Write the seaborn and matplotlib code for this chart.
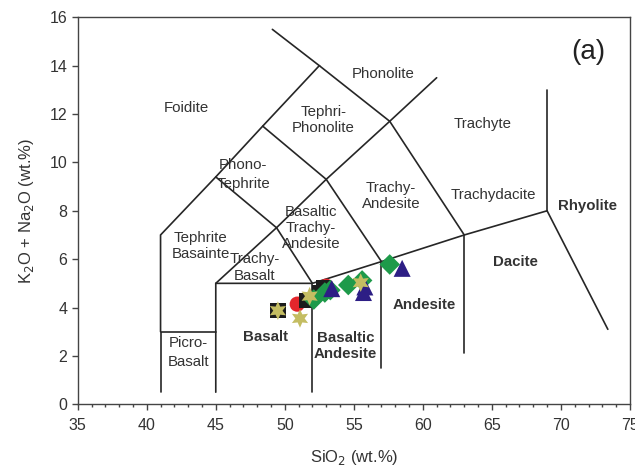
import matplotlib
matplotlib.use("Agg")
import matplotlib.pyplot as plt
import seaborn as sns
import pandas as pd
from matplotlib.ticker import MultipleLocator

sns.set_theme(style="ticks")
plt.rcParams['font.family'] = ['Liberation Sans', 'DejaVu Sans']

# ---- data (SiO2, K2O+Na2O) ----
circle_x = [50.9, 53.0]
circle_y = [4.14, 4.88]
square_x = [49.5, 51.6, 52.5, 52.8]
square_y = [3.87, 4.28, 4.62, 4.82]
diamond_x = [52.1, 52.9, 53.3, 54.6, 55.6, 57.6]
diamond_y = [4.33, 4.62, 4.72, 4.93, 5.12, 5.78]
triangle_x = [53.4, 55.8, 55.7, 58.5]
triangle_y = [4.78, 4.85, 4.62, 5.62]
star_x = [49.5, 51.1, 51.8, 55.5]
star_y = [3.87, 3.55, 4.47, 5.03]

# TAS classification boundaries
boundaries = [
    [(41, 0.5), (41, 3), (45, 3)],
    [(41, 3), (41, 7), (45, 9.4), (48.4, 11.5), (52.5, 14), (49.1, 15.5)],
    [(45, 0.5), (45, 5), (49.4, 7.3), (53, 9.3), (57.6, 11.7), (61, 13.5)],
    [(45, 5), (52, 5), (57, 5.9), (63, 7), (69, 8), (73.4, 3.1)],
    [(52, 0.5), (52, 5)],
    [(57, 1.5), (57, 5.9)],
    [(63, 2.1), (63, 7)],
    [(49.4, 7.3), (45, 9.4)],
    [(52, 5), (49.4, 7.3)],
    [(57, 5.9), (53, 9.3), (48.4, 11.5)],
    [(63, 7), (57.6, 11.7), (52.5, 14)],
    [(69, 8), (69, 13)],
]

labels = [
    ("Foidite", 42.9, 12.25, "normal", 1.2),
    ("Phonolite", 57.1, 13.65, "normal", 1.2),
    ("Tephri-\nPhonolite", 52.8, 11.75, "normal", 1.2),
    ("Trachyte", 64.3, 11.6, "normal", 1.2),
    ("Phono-\nTephrite", 47.0, 9.5, "normal", 1.4),
    ("Basaltic\nTrachy-\nAndesite", 51.9, 7.3, "normal", 1.2),
    ("Trachy-\nAndesite", 57.7, 8.6, "normal", 1.2),
    ("Trachydacite", 65.1, 8.65, "normal", 1.2),
    ("Rhyolite", 71.9, 8.2, "bold", 1.2),
    ("Tephrite\nBasainte", 43.9, 6.55, "normal", 1.15),
    ("Trachy-\nBasalt", 47.8, 5.65, "normal", 1.25),
    ("Dacite", 66.7, 5.88, "bold", 1.2),
    ("Andesite", 60.1, 4.1, "bold", 1.2),
    ("Basalt", 48.6, 2.8, "bold", 1.2),
    ("Basaltic\nAndesite", 54.4, 2.4, "bold", 1.15),
    ("Picro-\nBasalt", 43.0, 2.16, "normal", 1.45),
]

fig = plt.figure(figsize=(6.35, 4.67), dpi=100)
ax = fig.add_axes([0.1224, 0.1343, 0.992 - 0.1224, 0.963 - 0.1343])

for seg in boundaries:
    xs = [p[0] for p in seg]
    ys = [p[1] for p in seg]
    ax.plot(xs, ys, color="#262626", lw=1.2, zorder=1, solid_joinstyle="miter")

for text, x, y, w, ls in labels:
    ax.text(x, y, text, ha="center", va="center", fontsize=10.8,
            fontweight=w, color="#333333", linespacing=ls, zorder=2)
ax.text(72.0, 14.55, "(a)", ha="center", va="center", fontsize=20, color="#222222")

hexstar = (6, 1, 0)
groups = [
    (circle_x, circle_y, "o", "#e3262c", 120),
    (square_x, square_y, "s", "#1c1c1c", 120),
    (diamond_x, diamond_y, "D", "#1e9a4a", 110),
    (triangle_x, triangle_y, "^", "#2d1e85", 150),
    (star_x, star_y, hexstar, "#c4bd62", 180),
]
for i, (xs, ys, mk, col, s) in enumerate(groups):
    df = pd.DataFrame({"x": xs, "y": ys})
    sns.scatterplot(data=df, x="x", y="y", marker=mk, color=col, s=s,
                    edgecolor="none", linewidth=0, ax=ax, zorder=3 + i)

ax.set_xlim(35, 75)
ax.set_ylim(0, 16)
ax.xaxis.set_major_locator(MultipleLocator(5))
ax.xaxis.set_minor_locator(MultipleLocator(1))
ax.yaxis.set_major_locator(MultipleLocator(2))
ax.tick_params(axis="both", which="major", direction="out", length=4,
               width=1, color="#444444", labelsize=11.5, labelcolor="#333333")
ax.tick_params(axis="x", which="major", pad=6)
ax.tick_params(axis="x", which="minor", direction="out", length=2.5,
               width=1, color="#444444")
for sp in ax.spines.values():
    sp.set_color("#444444")
    sp.set_linewidth(1.0)

ax.set_xlabel("SiO$_2$ (wt.%)", fontsize=12, color="#333333", labelpad=11)
ax.set_ylabel("K$_2$O + Na$_2$O (wt.%)", fontsize=12, color="#333333", labelpad=10)

fig.savefig("out.png", dpi=100)
